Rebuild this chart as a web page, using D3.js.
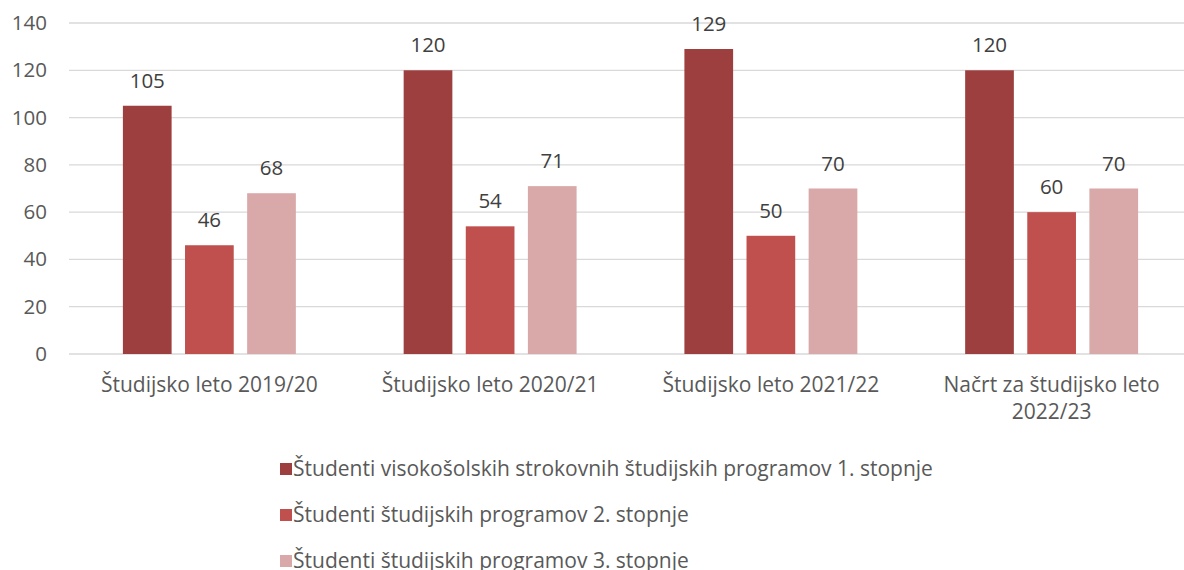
<!DOCTYPE html>
<html>
<head>
<meta charset="utf-8">
<script src="https://cdn.jsdelivr.net/npm/d3@7"></script>
<style>
  body { margin: 0; background: #fff; }
  svg { display: block; font-family: "Open Sans", sans-serif; }
</style>
</head>
<body>
<div id="chart"></div>
<script>
// Data
const categories = [
  ["Študijsko leto 2019/20"],
  ["Študijsko leto 2020/21"],
  ["Študijsko leto 2021/22"],
  ["Načrt za študijsko leto", "2022/23"]
];
const seriesNames = [
  "Študenti visokošolskih strokovnih študijskih programov 1. stopnje",
  "Študenti študijskih programov 2. stopnje",
  "Študenti študijskih programov 3. stopnje"
];
const level1 = [105, 120, 129, 120];
const level2 = [46, 54, 50, 60];
const level3 = [68, 71, 70, 70];
const yTicks = [0, 20, 40, 60, 80, 100, 120, 140];
const colors = ["#9e3f3f", "#c0504d", "#d9a8a8"];

const values = [level1, level2, level3];
const W = 1184, H = 570;
const plot = {left: 69, right: 1192, top: 23, bottom: 354};
const fs = 21;

const svg = d3.select("#chart").append("svg")
  .attr("width", W).attr("height", H);

const x0 = d3.scaleBand()
  .domain(d3.range(categories.length))
  .range([plot.left, plot.right])
  .paddingInner(0.384).paddingOuter(0.192);

const x1 = d3.scaleBand()
  .domain(d3.range(seriesNames.length))
  .range([0, x0.bandwidth()])
  .paddingInner(0.216);

const y = d3.scaleLinear().domain([0, 140]).range([plot.bottom, plot.top]);

// gridlines
svg.append("g").selectAll("line")
  .data(yTicks).join("line")
  .attr("x1", plot.left).attr("x2", plot.right)
  .attr("y1", d => y(d)).attr("y2", d => y(d))
  .attr("stroke", "#d9d9d9").attr("stroke-width", 1.3);

// y axis labels
const yAxis = svg.append("g")
  .attr("transform", `translate(${plot.left - 22},0)`)
  .call(d3.axisLeft(y).tickValues(yTicks).tickSize(0).tickPadding(0));
yAxis.select(".domain").remove();
yAxis.selectAll("text")
  .attr("font-family", "'Open Sans', sans-serif")
  .attr("font-size", fs - 0.5).attr("fill", "#595959");

// bars
const groups = svg.append("g").selectAll("g")
  .data(categories).join("g")
  .attr("transform", (d, i) => `translate(${x0(i)},0)`);

groups.selectAll("rect")
  .data((d, i) => values.map((s, k) => ({k, v: s[i]})))
  .join("rect")
  .attr("x", d => x1(d.k))
  .attr("width", x1.bandwidth())
  .attr("y", d => y(d.v))
  .attr("height", d => y(0) - y(d.v))
  .attr("fill", d => colors[d.k]);

groups.selectAll("text.val")
  .data((d, i) => values.map((s, k) => ({k, v: s[i]})))
  .join("text")
  .attr("class", "val")
  .attr("x", d => x1(d.k) + x1.bandwidth() / 2)
  .attr("y", d => y(d.v) - 18)
  .attr("text-anchor", "middle")
  .attr("font-size", fs - 0.5).attr("fill", "#404040")
  .text(d => d.v);

// category labels
const catLabels = svg.append("g").selectAll("text")
  .data(categories).join("text")
  .attr("text-anchor", "middle")
  .attr("font-size", fs).attr("fill", "#595959")
  .attr("x", (d, i) => x0(i) + x0.bandwidth() / 2)
  .attr("y", 392);
catLabels.selectAll("tspan")
  .data(d => d).join("tspan")
  .attr("x", function() { return this.parentNode.getAttribute("x"); })
  .attr("dy", (d, i) => i === 0 ? 0 : 27)
  .text(d => d);

// legend
const legend = svg.append("g").selectAll("g")
  .data(seriesNames).join("g")
  .attr("transform", (d, i) => `translate(280,${469 + i * 46})`);
legend.append("rect")
  .attr("x", 0).attr("y", -6).attr("width", 12).attr("height", 12)
  .attr("fill", (d, i) => colors[i]);
legend.append("text")
  .attr("x", 13).attr("y", 7)
  .attr("font-size", fs).attr("fill", "#595959")
  .text(d => d);
</script>
</body>
</html>
